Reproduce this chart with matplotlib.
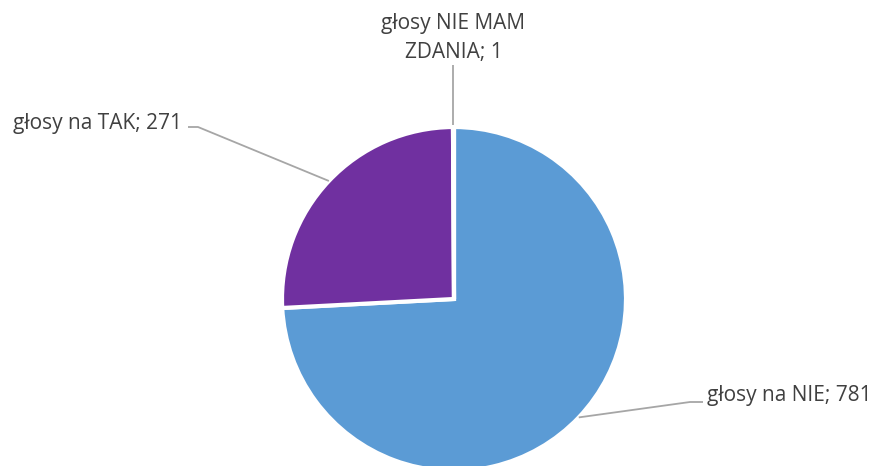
import matplotlib.pyplot as plt
import numpy as np
import matplotlib

matplotlib.rcParams['font.family'] = ['Open Sans', 'DejaVu Sans']

labels = ['głosy na NIE', 'głosy na TAK', 'głosy NIE MAM\nZDANIA']
values = [781, 271, 1]
colors = ['#5B9BD5', '#7030A0', '#A5A5A5']

W, H = 875, 466
fig = plt.figure(figsize=(W / 100, H / 100), dpi=100)
ax = fig.add_axes([0, 0, 1, 1])

cx, cy, r = 454, H - 299, 172
wedges, _ = ax.pie(values, center=(cx, cy), radius=r, startangle=90,
                   counterclock=False, colors=colors,
                   wedgeprops=dict(edgecolor='white', linewidth=3))
ax.set_xlim(0, W)
ax.set_ylim(0, H)
ax.set_aspect('equal')
ax.axis('off')

line_kw = dict(color='#A6A6A6', lw=1.3, solid_capstyle='butt')
text_kw = dict(color='#404040', fontsize=15)

def anchor(w):
    a = np.deg2rad((w.theta1 + w.theta2) / 2)
    return cx + r * np.cos(a), cy + r * np.sin(a)

# NIE
x0, y0 = anchor(wedges[0])
ex, ey = 690, H - 402
ax.plot([x0, ex, ex + 13], [y0, ey, ey], **line_kw)
ax.text(ex + 17, ey + 7, f'{labels[0]}; {values[0]}', ha='left', va='center', **text_kw)

# TAK
x0, y0 = anchor(wedges[1])
ex, ey = 198, H - 127
ax.plot([x0, ex, ex - 10], [y0, ey, ey], **line_kw)
ax.text(ex - 16, ey + 4, f'{labels[1]}; {values[1]}', ha='right', va='center', **text_kw)

# NIE MAM ZDANIA
x0, y0 = anchor(wedges[2])
ax.plot([x0, x0], [y0 + 2, H - 65], **line_kw)
ax.text(x0, H - 38, f'{labels[2]}; {values[2]}', ha='center', va='center',
        linespacing=1.45, **text_kw)

plt.savefig('out.png', dpi=100)
